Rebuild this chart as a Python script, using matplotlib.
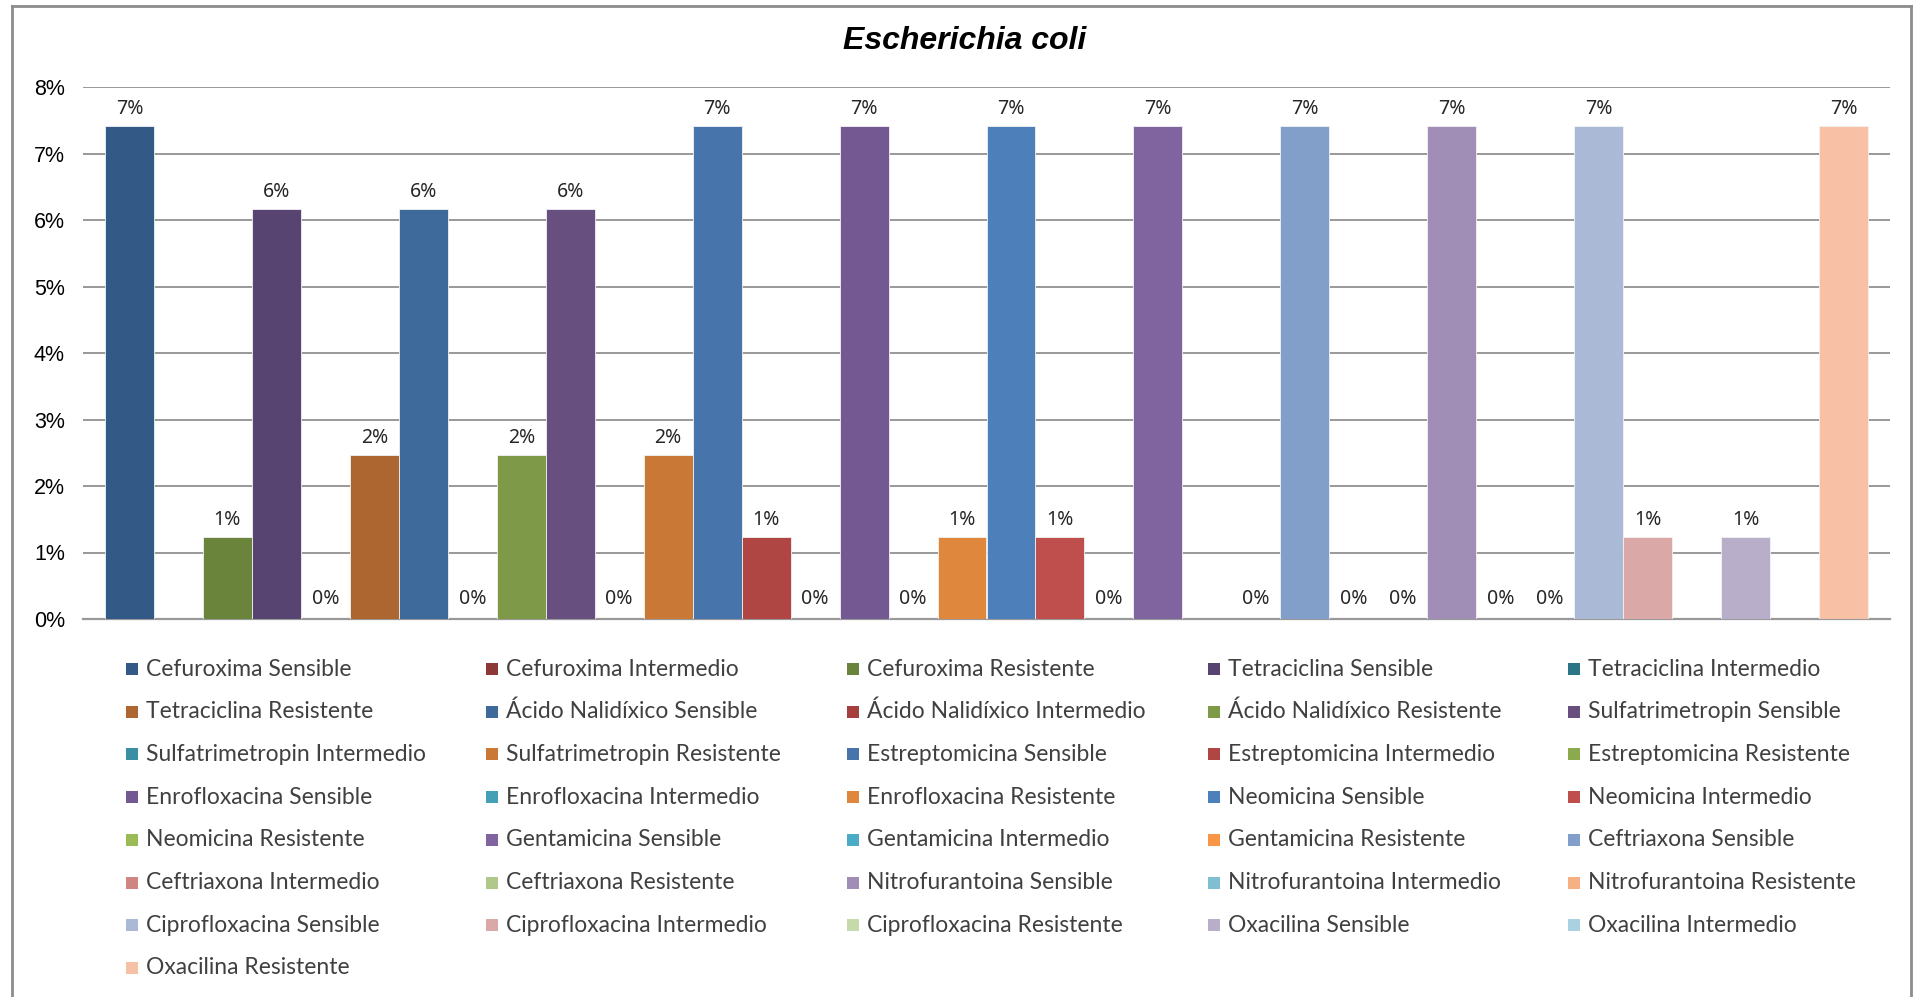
#!/usr/bin/env python
"""
Escherichia coli antibiotic susceptibility chart (one bar per series).
"""

import matplotlib

matplotlib.use("Agg")
import matplotlib.pyplot as plt
from matplotlib.lines import Line2D
from matplotlib.patches import Rectangle
from matplotlib.ticker import FuncFormatter

antibiotics = [
    "Cefuroxima", "Tetraciclina", "Ácido Nalidíxico", "Sulfatrimetropin",
    "Estreptomicina", "Enrofloxacina", "Neomicina", "Gentamicina",
    "Ceftriaxona", "Nitrofurantoina", "Ciprofloxacina", "Oxacilina",
]
results = ["Sensible", "Intermedio", "Resistente"]

# percent per series, None = empty cell (no bar, no label)
values = [
    7.41, None, 1.23,
    6.17, 0.0, 2.47,
    6.17, 0.0, 2.47,
    6.17, 0.0, 2.47,
    7.41, 1.23, 0.0,
    7.41, 0.0, 1.23,
    7.41, 1.23, 0.0,
    7.41, None, 0.0,
    7.41, 0.0, 0.0,
    7.41, 0.0, 0.0,
    7.41, 1.23, None,
    1.23, None, 7.41,
]

colors = [
    "#335A87", "#8C3836", "#6B843C", "#574470", "#2C7587", "#AE6630",
    "#3E6A9B", "#A5403E", "#7E9A48", "#674F80", "#3A8FA2", "#C97835",
    "#4874AC", "#B04644", "#8BAA4E", "#745892", "#45A0B6", "#E0873E",
    "#4D80BB", "#BF4F4C", "#9BBB59", "#8064A0", "#4BACC6", "#F79646",
    "#829FCA", "#CF8682", "#B0C98A", "#A08EB7", "#80BED1", "#F6B084",
    "#A9B9D6", "#D9A8A7", "#C6D9AB", "#B9AECA", "#A9D1E0", "#F8C1A5",
]

labels = [f"{a} {r}" for a in antibiotics for r in results]

W, H = 1914, 997
fig = plt.figure(figsize=(W / 100, H / 100), dpi=100)
fig.patch.set_facecolor("white")

# chart frame (bottom edge falls outside the picture)
frame = dict(color="#8C8C8C", lw=2.0, transform=fig.transFigure)
fig.add_artist(Line2D([12 / W, 12 / W], [0, 1 - 6 / H], **frame))
fig.add_artist(Line2D([12 / W, 1911 / W], [1 - 6 / H, 1 - 6 / H], **frame))
fig.add_artist(Line2D([1911 / W, 1911 / W], [0, 1 - 6 / H], **frame))

ax = fig.add_axes([83 / W, 1 - 619 / H, (1890 - 83) / W, (619 - 87) / H])
ax.set_facecolor("white")

for i, (val, col) in enumerate(zip(values, colors)):
    if val is None:
        continue
    ax.bar(i, val, width=1.0, color=col, edgecolor="#F2F2F2", linewidth=0.6, zorder=3)
    ax.annotate(f"{val:.0f}%", (i, val), xytext=(0, 5 if val > 0 else 7),
                textcoords="offset points", ha="center", va="bottom",
                fontsize=14, family="Noto Sans", color="#262626", zorder=4)

ax.set_xlim(-0.95, 35.95)
ax.set_ylim(0, 8)
ax.set_yticks(range(0, 9))
ax.yaxis.set_major_formatter(FuncFormatter(lambda v, _: f"{v:.0f}%"))
ax.set_xticks([])
ax.grid(axis="y", color="#999999", lw=1.4, zorder=0)
for side in ["left", "right", "top"]:
    ax.spines[side].set_visible(False)
ax.spines["bottom"].set_color("#999999")
ax.spines["bottom"].set_linewidth(1.6)
ax.tick_params(axis="y", length=0, pad=13, labelsize=15.5, labelcolor="#000000")
for t in ax.get_yticklabels():
    t.set_family("Liberation Sans")

fig.text(965 / W, 1 - 41 / H, "Escherichia coli", ha="center", va="center",
         fontsize=23, fontweight="bold", fontstyle="italic", family="Liberation Sans")

# legend laid out row by row in five equal columns, like the original
x0, dx = 126 / W, 360.5 / W
y0, dy = 1 - 669 / H, 42.7 / H
msize = 12
for i, (lab, col) in enumerate(zip(labels, colors)):
    r, c = divmod(i, 5)
    x = x0 + c * dx
    y = y0 - r * dy
    fig.add_artist(Rectangle((x, y - msize / 2 / H), msize / W, msize / H,
                             facecolor=col, edgecolor="none", transform=fig.transFigure))
    fig.text(x + 20 / W, y, lab, ha="left", va="center", fontsize=16.5,
             family="Lato", color="#404040")

fig.savefig("out.png", dpi=100)
